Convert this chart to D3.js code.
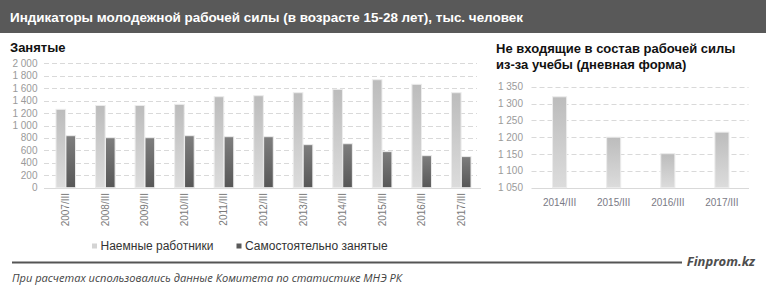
<!DOCTYPE html>
<html><head><meta charset="utf-8">
<script src="https://cdn.jsdelivr.net/npm/d3@7"></script>
<style>
html,body{margin:0;padding:0;background:#fff;}
svg{display:block;font-family:"Liberation Sans",Arial,sans-serif;}
</style></head>
<body>
<script>
const years = ["2007/III","2008/III","2009/III","2010/III","2011/III","2012/III","2013/III","2014/III","2015/III","2016/III","2017/III"];
const hired = [1260,1322,1322,1340,1463,1479,1527,1581,1736,1662,1527];
const selfEmployed = [836,804,804,836,820,820,692,707,580,515,500];
const leftTicks = [0,200,400,600,800,1000,1200,1400,1600,1800,2000];
const studyYears = ["2014/III","2015/III","2016/III","2017/III"];
const studyValues = [1320,1200,1151,1215];
const rightTicks = [1050,1100,1150,1200,1250,1300,1350];
const seriesNames = ["Наемные работники","Самостоятельно занятые"];

const W = 766, H = 293;
const svg = d3.select("body").append("svg").attr("width", W).attr("height", H);
const fmt = v => d3.format(",")(v).replace(/,/g, " ");

const defs = svg.append("defs");
function grad(id, top, bottom){
  const g = defs.append("linearGradient").attr("id", id).attr("x1",0).attr("y1",0).attr("x2",0).attr("y2",1);
  g.append("stop").attr("offset","0%").attr("stop-color", top);
  g.append("stop").attr("offset","100%").attr("stop-color", bottom);
}
grad("gLight", "#bcbcbc", "#dcdcdc");
grad("gDark", "#7e7e7e", "#575757");

// Header
svg.append("rect").attr("x",0).attr("y",0).attr("width",W).attr("height",33).attr("fill","#595959");
svg.append("text").attr("x",10).attr("y",21.5).attr("fill","#fff")
  .attr("font-size","13px").attr("font-weight","bold")
  .attr("textLength",513).attr("lengthAdjust","spacingAndGlyphs")
  .text("Индикаторы молодежной рабочей силы (в возрасте 15-28 лет), тыс. человек");

// Left chart
svg.append("text").attr("x",10).attr("y",51.5).attr("font-size","13px").attr("font-weight","bold").attr("fill","#111").text("Занятые");

const yL = d3.scaleLinear().domain([0,2000]).range([187.7,63.3]);
const xL = d3.scaleBand().domain(years).range([46,481]).paddingInner(0.49).paddingOuter(0.245);
const xSub = d3.scaleBand().domain(["h","s"]).range([0,xL.bandwidth()]).padding(0.03);

const gl = svg.append("g");
gl.selectAll("line.grid").data(leftTicks.filter(t=>t>0)).join("line")
  .attr("x1",44).attr("x2",477).attr("y1",d=>Math.round(yL(d))+0.5).attr("y2",d=>Math.round(yL(d))+0.5)
  .attr("stroke","#d9d9d9").attr("stroke-dasharray","5,3");
gl.append("line").attr("x1",44).attr("x2",481).attr("y1",188.5).attr("y2",188.5).attr("stroke","#d9d9d9");
gl.selectAll("text.yt").data(leftTicks).join("text")
  .attr("x",37.5).attr("y",d=>yL(d)).attr("dy","0.35em").attr("text-anchor","end")
  .attr("font-size","10px").attr("fill","#9a9a9a").text(fmt);

const groups = gl.selectAll("g.cat").data(years).join("g").attr("transform",d=>`translate(${xL(d)},0)`);
groups.append("rect").attr("x",xSub("h")).attr("width",xSub.bandwidth())
  .attr("y",(d,i)=>yL(hired[i])).attr("height",(d,i)=>yL(0)-yL(hired[i]))
  .attr("fill","url(#gLight)").attr("stroke","#ececec").attr("stroke-width",1);
groups.append("rect").attr("x",xSub("s")).attr("width",xSub.bandwidth())
  .attr("y",(d,i)=>yL(selfEmployed[i])).attr("height",(d,i)=>yL(0)-yL(selfEmployed[i]))
  .attr("fill","url(#gDark)").attr("stroke","#ececec").attr("stroke-width",1);

gl.selectAll("text.xt").data(years).join("text")
  .attr("transform",d=>`translate(${xL(d)+xL.bandwidth()/2},193) rotate(-90)`)
  .attr("dy","0.35em").attr("text-anchor","end").attr("font-size","10px").attr("fill","#7a7a7a").text(d=>d);

// Legend
const leg = svg.append("g");
const legItems = [{x:92, fill:"#d4d4d4", name:seriesNames[0]},{x:236.5, fill:"#595959", name:seriesNames[1]}];
legItems.forEach(it=>{
  leg.append("rect").attr("x",it.x).attr("y",243.5).attr("width",5).attr("height",5).attr("fill",it.fill);
  leg.append("text").attr("x",it.x+8.5).attr("y",250.3).attr("font-size","12px").attr("fill","#333").text(it.name);
});

// Right chart
svg.append("text").attr("x",496).attr("y",53).attr("font-size","13px").attr("font-weight","bold").attr("fill","#111").text("Не входящие в состав рабочей силы");
svg.append("text").attr("x",496).attr("y",68.5).attr("font-size","13px").attr("font-weight","bold").attr("fill","#111").text("из-за учебы (дневная форма)");

const yR = d3.scaleLinear().domain([1050,1350]).range([187.7,86.7]);
const xR = d3.scaleBand().domain(studyYears).range([532.5,749]).paddingInner(0.74).paddingOuter(0.37);
const gr = svg.append("g");
gr.selectAll("line.grid").data(rightTicks.filter(t=>t>1050)).join("line")
  .attr("x1",531.5).attr("x2",748.5).attr("y1",d=>Math.round(yR(d))+0.5).attr("y2",d=>Math.round(yR(d))+0.5)
  .attr("stroke","#d9d9d9").attr("stroke-dasharray","5,3");
gr.append("line").attr("x1",531.5).attr("x2",749).attr("y1",188.5).attr("y2",188.5).attr("stroke","#d9d9d9");
gr.selectAll("text.yt").data(rightTicks).join("text")
  .attr("x",523).attr("y",d=>yR(d)).attr("dy","0.35em").attr("text-anchor","end")
  .attr("font-size","10px").attr("fill","#9a9a9a").text(fmt);
gr.selectAll("rect.bar").data(studyValues).join("rect")
  .attr("x",(d,i)=>xR(studyYears[i])).attr("width",xR.bandwidth())
  .attr("y",d=>yR(d)).attr("height",d=>yR(1050)-yR(d))
  .attr("fill","url(#gLight)").attr("stroke","#ececec").attr("stroke-width",1);
gr.selectAll("text.xt").data(studyYears).join("text")
  .attr("x",d=>xR(d)+xR.bandwidth()/2).attr("y",206).attr("text-anchor","middle")
  .attr("font-size","10px").attr("fill","#7a7a85").text(d=>d);

// Footer
svg.append("line").attr("x1",12).attr("x2",682).attr("y1",262.5).attr("y2",262.5).attr("stroke","#555").attr("stroke-width",2.2);
svg.append("text").attr("x",755).attr("y",266).attr("text-anchor","end").attr("font-size","13px")
  .attr("font-weight","bold").attr("font-style","italic").attr("fill","#4d4d4d")
  .attr("font-family","'Open Sans',sans-serif").text("Finprom.kz");
svg.append("text").attr("x",12).attr("y",282).attr("font-size","10px").attr("font-style","italic").attr("fill","#444")
  .attr("font-family","'Open Sans',sans-serif").attr("textLength",390).attr("lengthAdjust","spacingAndGlyphs")
  .text("При расчетах использовались данные Комитета по статистике МНЭ РК");
</script>
</body></html>
